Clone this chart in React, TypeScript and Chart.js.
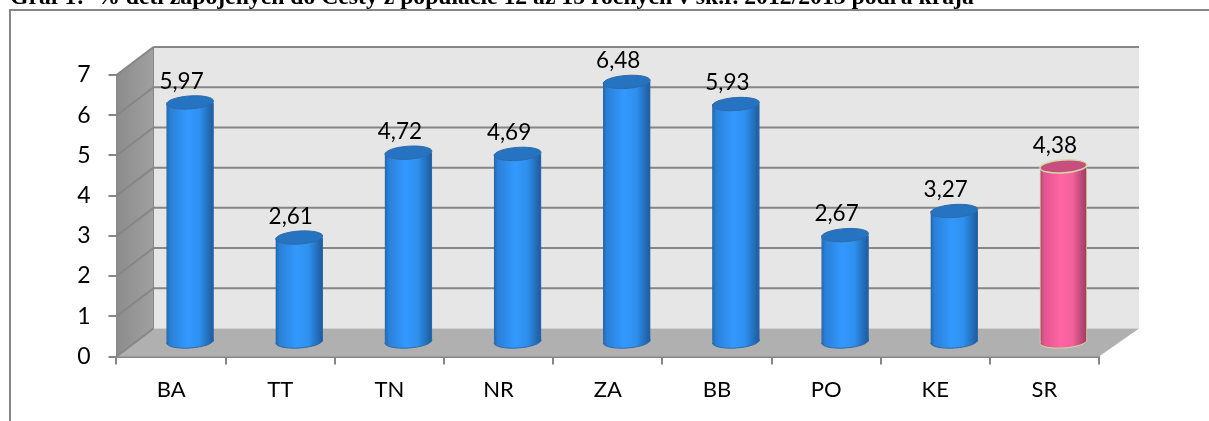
import { useEffect, useRef } from "react";
import { Chart, registerables } from "chart.js";

Chart.register(...registerables);

const titleText = "Graf 1:  % detí zapojených do Cesty z populácie 12 až 15 ročných v šk.r. 2012/2013 podľa kraja";
const categories = ["BA", "TT", "TN", "NR", "ZA", "BB", "PO", "KE", "SR"];
const values = [5.97, 2.61, 4.72, 4.69, 6.48, 5.93, 2.67, 3.27, 4.38];
const labels = ["5,97", "2,61", "4,72", "4,69", "6,48", "5,93", "2,67", "3,27", "4,38"];
const highlightIndex = 8;

const GRID = "#868686";
const DEPTH_L = 37;
const DEPTH_R = 40;
const DEPTH_Y = 28;
const BAR_DX = 19;
const BAR_DY = -14;
const BAR_W = 47;
const RY = 6.5;
const FONT = "Lato, Carlito, sans-serif";

const palette = (i: number) =>
  i === highlightIndex
    ? { edgeL: "#a84069", low: "#e0558f", bright: "#ff66a3", high: "#f2609a", edgeR: "#9c3a62", top: "#c64f80", line: "#d3dc9f" }
    : { edgeL: "#2068b0", low: "#2a80d8", bright: "#3399ff", high: "#2e90ee", edgeR: "#1d5a9c", top: "#2673c2", line: "#2e6aa8" };

function barGradient(ctx: CanvasRenderingContext2D, x: number, i: number) {
  const p = palette(i);
  const g = ctx.createLinearGradient(x - BAR_W / 2, 0, x + BAR_W / 2, 0);
  g.addColorStop(0, p.edgeL);
  g.addColorStop(0.08, p.low);
  g.addColorStop(0.45, p.bright);
  g.addColorStop(0.7, p.high);
  g.addColorStop(1, p.edgeR);
  return g;
}

const scene3d = {
  id: "scene3d",
  beforeDatasetsDraw(chart: any) {
    const { ctx, chartArea: a, scales } = chart;
    const y = scales.y;
    ctx.save();
    ctx.strokeStyle = GRID;
    ctx.lineWidth = 2;
    ctx.beginPath();
    ctx.moveTo(10, 425);
    ctx.lineTo(10, 10);
    ctx.lineTo(1215, 10);
    ctx.stroke();
    const bl = a.left + DEPTH_L;
    const br = a.right + DEPTH_R;
    const by = a.bottom - DEPTH_Y;
    const ty = a.top - DEPTH_Y;
    ctx.fillStyle = "#e6e6e6";
    ctx.fillRect(bl, ty, br - bl, by - ty);
    const side = ctx.createLinearGradient(a.left, 0, bl, 0);
    side.addColorStop(0, "#8c8c8c");
    side.addColorStop(1, "#a0a0a0");
    ctx.fillStyle = side;
    ctx.beginPath();
    ctx.moveTo(a.left, a.top);
    ctx.lineTo(bl, ty);
    ctx.lineTo(bl, by);
    ctx.lineTo(a.left, a.bottom);
    ctx.closePath();
    ctx.fill();
    ctx.fillStyle = "#b0b0b0";
    ctx.beginPath();
    ctx.moveTo(a.left, a.bottom);
    ctx.lineTo(bl, by);
    ctx.lineTo(br, by);
    ctx.lineTo(a.right, a.bottom);
    ctx.closePath();
    ctx.fill();
    ctx.strokeStyle = GRID;
    ctx.lineWidth = 2;
    y.ticks.forEach((t: any) => {
      const py = y.getPixelForValue(t.value);
      ctx.beginPath();
      if (t.value > 0) {
        ctx.moveTo(br, py - DEPTH_Y);
        ctx.lineTo(bl, py - DEPTH_Y);
      }
      ctx.moveTo(bl, py - DEPTH_Y);
      ctx.lineTo(a.left, py);
      ctx.stroke();
    });
    ctx.lineWidth = 1;
    ctx.beginPath();
    ctx.moveTo(bl, ty);
    ctx.lineTo(bl, by);
    ctx.stroke();
    ctx.restore();
  },
  beforeDatasetDraw(chart: any) {
    const { ctx } = chart;
    const meta = chart.getDatasetMeta(0);
    ctx.save();
    ctx.translate(BAR_DX, BAR_DY);
    meta.data.forEach((el: any, i: number) => {
      const p = palette(i);
      ctx.beginPath();
      ctx.ellipse(el.x, el.base, BAR_W / 2, RY, (-4 * Math.PI) / 180, 0, Math.PI * 2);
      ctx.fillStyle = barGradient(ctx, el.x, i);
      ctx.fill();
      ctx.strokeStyle = p.line;
      ctx.lineWidth = 1;
      ctx.stroke();
    });
  },
  afterDatasetDraw(chart: any) {
    const { ctx } = chart;
    const meta = chart.getDatasetMeta(0);
    meta.data.forEach((el: any, i: number) => {
      const p = palette(i);
      ctx.beginPath();
      ctx.ellipse(el.x, el.y, BAR_W / 2, RY, (-4 * Math.PI) / 180, 0, Math.PI * 2);
      ctx.fillStyle = p.top;
      ctx.fill();
      ctx.strokeStyle = p.line;
      ctx.lineWidth = i === highlightIndex ? 1.5 : 1;
      ctx.stroke();
    });
    ctx.restore();
    ctx.save();
    ctx.fillStyle = "#000";
    ctx.font = `22.5px ${FONT}`;
    ctx.textAlign = "center";
    ctx.textBaseline = "middle";
    meta.data.forEach((el: any, i: number) => {
      ctx.fillText(labels[i], el.x + 10.5, el.y + BAR_DY - 21);
    });
    ctx.restore();
  },
};

export default function App() {
  const ref = useRef<HTMLCanvasElement>(null);
  useEffect(() => {
    const chart = new Chart(ref.current!, {
      type: "bar",
      data: {
        labels: categories,
        datasets: [
          {
            data: values,
            barThickness: BAR_W,
            borderWidth: { left: 1, right: 1, top: 0, bottom: 0 },
            borderColor: (c: any) => palette(c.dataIndex).line,
            backgroundColor: (c: any) => {
              const ch = c.chart;
              if (!ch.chartArea) return palette(c.dataIndex).bright;
              return barGradient(ch.ctx, ch.scales.x.getPixelForValue(c.dataIndex), c.dataIndex);
            },
          },
        ],
      },
      options: {
        animation: false,
        responsive: false,
        layout: { autoPadding: false, padding: { left: 0, top: 75, right: 110, bottom: 0 } },
        plugins: { legend: { display: false }, tooltip: { enabled: false }, title: { display: false } },
        scales: {
          x: {
            afterFit: (s: any) => { s.height = 64.5; },
            grid: { drawOnChartArea: false, color: GRID, lineWidth: 2, tickLength: 8, offset: true },
            border: { color: GRID, width: 2 },
            ticks: { color: "#000", font: { family: FONT, size: 22 }, padding: 12, maxRotation: 0, autoSkip: false },
          },
          y: {
            min: 0,
            max: 7,
            afterFit: (s: any) => { s.width = 116.5; },
            grid: { drawOnChartArea: false, color: GRID, lineWidth: 2, tickLength: 8 },
            border: { color: GRID, width: 2 },
            ticks: { color: "#000", stepSize: 1, font: { family: FONT, size: 23 }, padding: 18 },
          },
        },
      },
      plugins: [scene3d],
    } as any);
    return () => chart.destroy();
  }, []);
  return (
    <div style={{ position: "absolute", left: 0, top: 0, width: 1209, height: 421, overflow: "hidden", background: "#fff" }}>
      <canvas ref={ref} width={1209} height={421} style={{ display: "block" }} />
      <div
        style={{
          position: "absolute",
          left: 10,
          top: -18,
          fontFamily: "'Liberation Serif', serif",
          fontWeight: "bold",
          fontSize: 23.7,
          lineHeight: "28px",
          whiteSpace: "pre",
          color: "#000",
        }}
      >
        {titleText}
      </div>
    </div>
  );
}
